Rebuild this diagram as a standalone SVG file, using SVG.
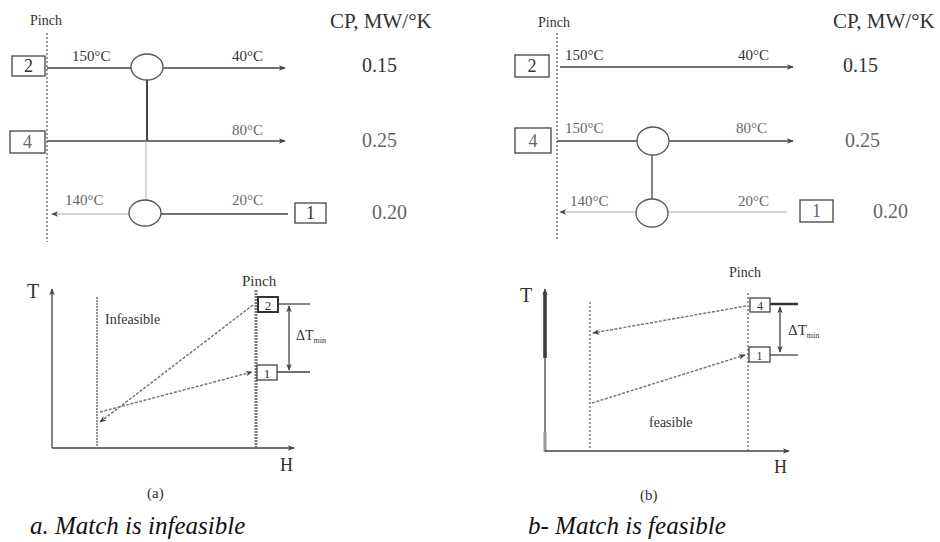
<svg xmlns="http://www.w3.org/2000/svg" width="940" height="542" viewBox="0 0 940 542" font-family="'Liberation Serif','DejaVu Serif',serif">
<defs>
<marker id="ar" viewBox="0 0 10 10" refX="9" refY="5" markerWidth="7" markerHeight="7" orient="auto-start-reverse" markerUnits="userSpaceOnUse">
<path d="M0,1 L10,5 L0,9 L3,5 Z" fill="#444"/>
</marker>
<style>
text{font-family:'Liberation Serif','DejaVu Serif',serif;fill:#333}
.lbl{font-size:15px}
.blur{fill:#666}
.cp{font-size:21px}
.val{font-size:20px}
.num{font-size:18px;text-anchor:middle}
.box{fill:#fff;stroke:#444;stroke-width:1.3}
.ln{stroke:#444;stroke-width:1.3;fill:none}
.lt{stroke:#aaa;stroke-width:1.2;fill:none}
.hx{fill:#fff;stroke:#555;stroke-width:1.3}
.pinch{stroke:#555;stroke-width:1.2;stroke-dasharray:2 2;fill:none}
.dsh{stroke:#777;stroke-width:1.5;stroke-dasharray:3 1.5;fill:none}
.cap{font-size:25px;font-style:italic;fill:#111}
</style>
</defs>
<rect width="940" height="542" fill="#fff"/>

<!-- ===== Top left grid ===== -->
<g id="a-grid-labels">
<text x="30" y="25" font-size="14" fill="#555">Pinch</text>
<text x="330" y="28" class="cp">CP, MW/°K</text>
<text x="362" y="72" class="val">0.15</text>
<text x="362" y="147" class="val blur">0.25</text>
<text x="372" y="219" class="val blur">0.20</text>
</g>
<g id="a-connectors">
<line class="pinch" x1="47" y1="33" x2="47" y2="242"/>
<line class="ln" x1="47" y1="68" x2="285" y2="68" marker-end="url(#ar)"/>
<line class="ln" x1="47" y1="141" x2="285" y2="141" marker-end="url(#ar)"/>
<line class="lt" x1="52" y1="214" x2="130" y2="214" marker-start="url(#ar)"/>
<line class="ln" x1="160" y1="214" x2="288" y2="214"/>
<line x1="147" y1="80" x2="147" y2="141" stroke="#444" stroke-width="2"/>
<line x1="146" y1="141" x2="146" y2="201" stroke="#bbb" stroke-width="1.2"/>
</g>
<g id="a-stream2">
<rect class="box" x="12" y="56" width="33" height="20"/>
<text x="28.5" y="72" class="num">2</text>
<text x="72" y="61" class="lbl">150°C</text>
<text x="232" y="61" class="lbl">40°C</text>
<ellipse class="hx" cx="147" cy="67" rx="16" ry="13"/>
</g>
<g id="a-stream4">
<rect class="box" x="10" y="131" width="35" height="22"/>
<text x="27.5" y="148" class="num blur">4</text>
<text x="232" y="135" class="lbl blur">80°C</text>
</g>
<g id="a-stream1">
<rect class="box" x="295" y="203" width="31" height="20"/>
<text x="310.5" y="219" class="num">1</text>
<text x="65" y="205" class="lbl blur">140°C</text>
<text x="232" y="205" class="lbl blur">20°C</text>
<ellipse class="hx" cx="145" cy="213" rx="16" ry="13"/>
</g>

<!-- ===== Top right grid ===== -->
<g id="b-grid-labels">
<text x="538" y="27" font-size="14" fill="#555">Pinch</text>
<text x="833" y="28" class="cp">CP, MW/°K</text>
<text x="843" y="72" class="val">0.15</text>
<text x="845" y="147" class="val blur">0.25</text>
<text x="873" y="218" class="val blur">0.20</text>
</g>
<g id="b-connectors">
<line class="pinch" x1="557" y1="33" x2="557" y2="240"/>
<line class="ln" x1="560" y1="67" x2="793" y2="67" marker-end="url(#ar)"/>
<line class="ln" x1="557" y1="141" x2="793" y2="141" marker-end="url(#ar)"/>
<line class="lt" x1="560" y1="212" x2="787" y2="212" marker-start="url(#ar)"/>
<line class="ln" x1="652" y1="155" x2="652" y2="199"/>
</g>
<g id="b-stream2">
<rect class="box" x="515" y="55" width="34" height="22"/>
<text x="532" y="72" class="num">2</text>
<text x="565" y="60" class="lbl">150°C</text>
<text x="738" y="60" class="lbl">40°C</text>
</g>
<g id="b-stream4">
<rect class="box" x="515" y="128" width="36" height="25"/>
<text x="533" y="147" class="num blur">4</text>
<text x="565" y="133" class="lbl blur">150°C</text>
<text x="736" y="133" class="lbl blur">80°C</text>
<ellipse class="hx" cx="653" cy="141" rx="16" ry="14"/>
</g>
<g id="b-stream1">
<rect class="box" x="800" y="200" width="33" height="22"/>
<text x="816.5" y="217" class="num blur">1</text>
<text x="570" y="206" class="lbl blur">140°C</text>
<text x="738" y="206" class="lbl blur">20°C</text>
<ellipse class="hx" cx="652" cy="213" rx="16" ry="14"/>
</g>

<!-- ===== Bottom left T-H ===== -->
<g id="a-th-connectors">
<line class="ln" x1="52" y1="448" x2="52" y2="289" marker-end="url(#ar)"/>
<line class="ln" x1="52" y1="448" x2="294" y2="448" marker-end="url(#ar)"/>
<line x1="97" y1="297" x2="97" y2="447" stroke="#888" stroke-width="1.8" stroke-dasharray="2 1"/>
<line x1="256" y1="290" x2="256" y2="447" stroke="#777" stroke-width="3" stroke-dasharray="2 1"/>
<line class="dsh" x1="253" y1="305" x2="100" y2="422" marker-end="url(#ar)"/>
<line class="dsh" x1="100" y1="412" x2="252" y2="372" marker-end="url(#ar)"/>
<line class="ln" x1="279" y1="304" x2="310" y2="304"/>
<line class="ln" x1="277" y1="372" x2="310" y2="372"/>
<line class="ln" x1="289" y1="306" x2="289" y2="370" marker-start="url(#ar)" marker-end="url(#ar)"/>
</g>
<g id="a-th-labels">
<text x="27" y="298" font-size="20">T</text>
<text x="280" y="471" font-size="18">H</text>
<text x="242" y="286" font-size="15" fill="#555">Pinch</text>
<text x="105" y="324" font-size="14" fill="#666">Infeasible</text>
<text x="296" y="340" font-size="14" fill="#555">ΔT<tspan font-size="8" dy="3">min</tspan></text>
<text x="147" y="498" font-size="15" fill="#666">(a)</text>
</g>
<g id="a-th-box2">
<rect x="258" y="297" width="20" height="15" fill="#fff" stroke="#333" stroke-width="2"/>
<text x="268" y="310" font-size="13" text-anchor="middle" fill="#555">2</text>
</g>
<g id="a-th-box1">
<rect class="box" x="257" y="365" width="20" height="15"/>
<text x="267" y="378" font-size="13" text-anchor="middle">1</text>
</g>
<text x="30" y="534" class="cap">a. Match is infeasible</text>

<!-- ===== Bottom right T-H ===== -->
<g id="b-th-connectors">
<line x1="545" y1="358" x2="545" y2="292" stroke="#333" stroke-width="3.5"/>
<line class="ln" x1="545" y1="452" x2="545" y2="289" marker-end="url(#ar)"/>
<line x1="545" y1="432" x2="545" y2="452" stroke="#999" stroke-width="3"/>
<line class="ln" x1="545" y1="451" x2="789" y2="451" marker-end="url(#ar)"/>
<line class="pinch" x1="590" y1="302" x2="590" y2="451"/>
<line class="pinch" x1="748" y1="293" x2="748" y2="451"/>
<line class="dsh" x1="746" y1="306" x2="593" y2="333" marker-end="url(#ar)"/>
<line class="dsh" x1="592" y1="403" x2="745" y2="355" marker-end="url(#ar)"/>
<line x1="770" y1="304" x2="798" y2="304" stroke="#333" stroke-width="2.5"/>
<line class="ln" x1="770" y1="355" x2="798" y2="355"/>
<line class="ln" x1="780" y1="307" x2="780" y2="352" marker-start="url(#ar)" marker-end="url(#ar)"/>
</g>
<g id="b-th-labels">
<text x="520" y="302" font-size="20">T</text>
<text x="774" y="473" font-size="18" fill="#555">H</text>
<text x="729" y="277" font-size="14" fill="#666">Pinch</text>
<text x="649" y="427" font-size="14" fill="#666">feasible</text>
<text x="788" y="335" font-size="15" fill="#444">ΔT<tspan font-size="8" dy="3">min</tspan></text>
<text x="640" y="500" font-size="15" fill="#666">(b)</text>
</g>
<g id="b-th-box4">
<rect class="box" x="750" y="298" width="20" height="14"/>
<text x="760" y="310" font-size="12" text-anchor="middle" fill="#555">4</text>
</g>
<g id="b-th-box1">
<rect class="box" x="749" y="347" width="21" height="15"/>
<text x="759.5" y="360" font-size="12" text-anchor="middle">1</text>
</g>
<text x="528" y="534" class="cap">b- Match is feasible</text>
</svg>
